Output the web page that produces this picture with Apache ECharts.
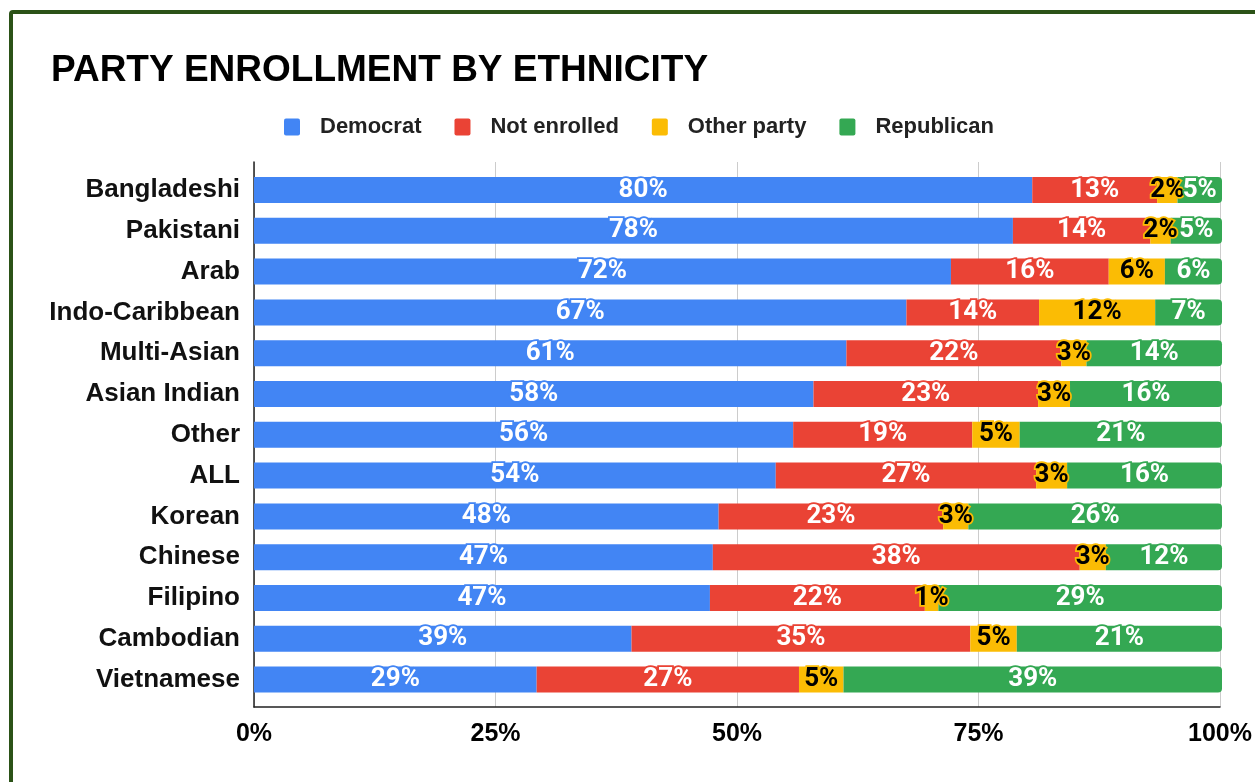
<!DOCTYPE html>
<html>
<head>
<meta charset="utf-8">
<title>Party Enrollment by Ethnicity</title>
<script src="https://cdn.jsdelivr.net/npm/echarts@6/dist/echarts.min.js"></script>
<style>
  html, body { margin: 0; padding: 0; background: #ffffff; }
  #frame {
    position: absolute; left: 9px; top: 10px;
    width: 1300px; height: 820px;
    border: 4px solid #2b5217; border-radius: 4px; box-sizing: border-box;
  }
  #chart { position: absolute; left: 0; top: 0; width: 1255px; height: 782px; }
</style>
</head>
<body>
<div id="frame"></div>
<div id="chart"></div>
<script>
// Ethnic groups, top to bottom
const categories = [
  'Bangladeshi', 'Pakistani', 'Arab', 'Indo-Caribbean', 'Multi-Asian',
  'Asian Indian', 'Other', 'ALL', 'Korean', 'Chinese', 'Filipino',
  'Cambodian', 'Vietnamese'
];

// Share of each group by party enrollment (percent)
const democrat    = [80.4, 78.4, 72.0, 67.4, 61.2, 57.8, 55.7, 53.9, 48.0, 47.4, 47.1, 39.0, 29.2];
const notEnrolled = [12.9, 14.2, 16.3, 13.7, 22.2, 23.2, 18.5, 26.9, 23.2, 37.9, 22.2, 35.0, 27.1];
const otherParty  = [ 2.1,  2.1,  5.8, 12.0,  2.6,  3.3,  4.9,  3.2,  2.6,  2.7,  1.4,  4.8,  4.6];
const republican  = [ 4.6,  5.3,  5.9,  6.9, 14.0, 15.7, 20.9, 16.0, 26.2, 12.0, 29.3, 21.2, 39.1];

const xTicks = [0, 25, 50, 75, 100];

const seriesDefs = [
  { name: 'Democrat',     data: democrat,    color: '#4285F4', text: '#ffffff' },
  { name: 'Not enrolled', data: notEnrolled, color: '#EA4335', text: '#ffffff' },
  { name: 'Other party',  data: otherParty,  color: '#FBBC04', text: '#000000' },
  { name: 'Republican',   data: republican,  color: '#34A853', text: '#ffffff' }
];

const chart = echarts.init(document.getElementById('chart'), null, { renderer: 'canvas' });

const plotLeft = 254, plotWidth = 968;

const series = seriesDefs.map((s, i) => ({
  name: s.name,
  type: 'bar',
  stack: 'total',
  xAxisIndex: 1,
  yAxisIndex: 1,
  barWidth: 26,
  data: s.data,
  itemStyle: {
    color: s.color,
    borderRadius: i === seriesDefs.length - 1 ? [0, 4, 4, 0] : 0
  },
  label: {
    show: true,
    position: 'inside',
    formatter: p => Math.round(p.value) + '%',
    fontFamily: 'Roboto, "Liberation Sans", sans-serif',
    fontWeight: 'bold',
    fontSize: 26,
    color: s.text,
    textBorderColor: s.color,
    textBorderWidth: 3.5
  },
  emphasis: { disabled: true }
}));

chart.setOption({
  animation: false,
  backgroundColor: 'transparent',
  title: {
    text: 'PARTY ENROLLMENT BY ETHNICITY',
    left: 46,
    top: 47,
    textStyle: {
      fontFamily: '"Liberation Sans", Arial, sans-serif',
      fontWeight: 'bold',
      fontSize: 37,
      color: '#000000'
    }
  },
  legend: {
    left: 279,
    top: 111,
    icon: 'path://M2,0 L14,0 Q16,0 16,2 L16,15 Q16,17 14,17 L2,17 Q0,17 0,15 L0,2 Q0,0 2,0 Z',
    itemWidth: 16,
    itemHeight: 17,
    itemGap: 33,
    selectedMode: false,
    data: seriesDefs.map(s => s.name),
    textStyle: {
      fontFamily: '"Liberation Sans", Arial, sans-serif',
      fontWeight: 'bold',
      fontSize: 22,
      color: '#222222',
      padding: [0, 0, 0, 15]
    }
  },
  grid: [
    // frame: axis lines and vertical gridlines
    { left: plotLeft, width: plotWidth, top: 162, height: 545 },
    // bars
    { left: plotLeft, width: plotWidth, top: 169.6, height: 530.4 }
  ],
  xAxis: [
    {
      gridIndex: 0,
      type: 'value',
      min: xTicks[0],
      max: xTicks[xTicks.length - 1],
      interval: 25,
      axisLine: { show: true, onZero: false, lineStyle: { color: '#222222', width: 1.5 } },
      axisTick: { show: false },
      splitLine: { show: true, lineStyle: { color: '#cccccc', width: 1 } },
      axisLabel: {
        formatter: '{value}%',
        margin: 15,
        fontFamily: '"Liberation Sans Narrow", "Arial Narrow", "Liberation Sans", sans-serif',
        fontWeight: 'bold',
        fontSize: 25,
        color: '#000000'
      }
    },
    {
      gridIndex: 1,
      type: 'value',
      min: 0,
      max: 100,
      show: false
    }
  ],
  yAxis: [
    {
      gridIndex: 0,
      type: 'value',
      min: 0,
      max: 1,
      axisLine: { show: true, lineStyle: { color: '#222222', width: 1.5 } },
      axisTick: { show: false },
      axisLabel: { show: false },
      splitLine: { show: false }
    },
    {
      gridIndex: 1,
      type: 'category',
      data: categories,
      inverse: true,
      axisLine: { show: false },
      axisTick: { show: false },
      splitLine: { show: false },
      axisLabel: {
        margin: 14,
        fontFamily: '"Liberation Sans", Arial, sans-serif',
        fontWeight: 'bold',
        fontSize: 26,
        color: '#111111'
      }
    }
  ],
  series: series
});
</script>
</body>
</html>
